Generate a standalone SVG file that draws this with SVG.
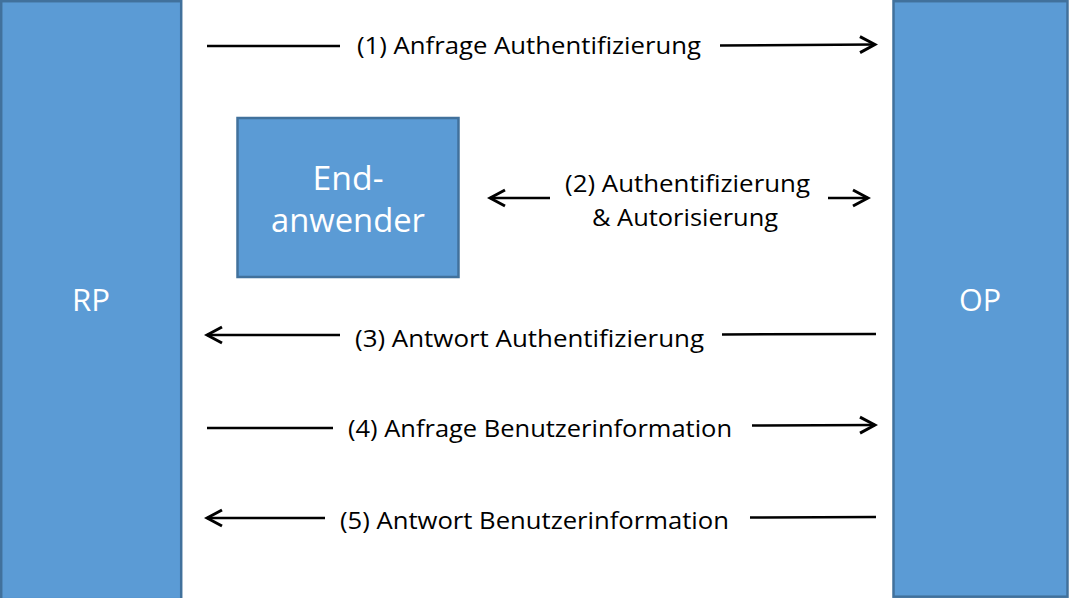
<svg xmlns="http://www.w3.org/2000/svg" width="1069" height="598" viewBox="0 0 1069 598">
<defs>
<style>
.box{fill:#5B9BD5;stroke:#41719C;stroke-width:2.5}
.w{fill:#ffffff;font-family:"Open Sans","Noto Sans",sans-serif;text-anchor:middle}
.t{fill:#000000;font-family:"Open Sans","Noto Sans",sans-serif;font-size:23.5px;text-anchor:middle}
.ln{stroke:#000;stroke-width:2.5;fill:none}
</style>
<marker id="ah" viewBox="0 0 20 20" refX="17" refY="10" markerWidth="20" markerHeight="20" markerUnits="userSpaceOnUse" orient="auto-start-reverse">
<path d="M2,2 L17,10 L2,18" fill="none" stroke="#000" stroke-width="3"/>
</marker>
</defs>
<rect width="1069" height="598" fill="#ffffff"/>
<g id="RP">
<rect class="box" x="1.2" y="1.2" width="180" height="598"/>
<text class="w" x="91" y="311" font-size="31" textLength="38" lengthAdjust="spacingAndGlyphs">RP</text>
</g>
<g id="OP">
<rect class="box" x="893.5" y="1.2" width="174" height="595.5"/>
<text class="w" x="980" y="311" font-size="31" textLength="42" lengthAdjust="spacingAndGlyphs">OP</text>
</g>
<g id="Endanwender">
<rect class="box" x="237.5" y="118" width="221" height="159"/>
<text class="w" x="348" y="190" font-size="32" textLength="71" lengthAdjust="spacingAndGlyphs">End-</text>
<text class="w" x="348" y="232" font-size="32" textLength="154" lengthAdjust="spacingAndGlyphs">anwender</text>
</g>
<g id="connectors">
<line class="ln" x1="207" y1="46" x2="340" y2="46"/>
<line class="ln" x1="720" y1="45.5" x2="875" y2="44.5" marker-end="url(#ah)"/>
<line class="ln" x1="550" y1="198" x2="490" y2="198" marker-end="url(#ah)"/>
<line class="ln" x1="828" y1="198" x2="868" y2="198" marker-end="url(#ah)"/>
<line class="ln" x1="340" y1="335" x2="207" y2="335" marker-end="url(#ah)"/>
<line class="ln" x1="722" y1="334.5" x2="876" y2="334"/>
<line class="ln" x1="207" y1="428" x2="333" y2="428"/>
<line class="ln" x1="752" y1="425.5" x2="875" y2="425" marker-end="url(#ah)"/>
<line class="ln" x1="325" y1="518" x2="207" y2="518" marker-end="url(#ah)"/>
<line class="ln" x1="750" y1="517.5" x2="876" y2="517"/>
</g>
<g id="labels">
<text class="t" x="529" y="54" textLength="344" lengthAdjust="spacingAndGlyphs">(1) Anfrage Authentifizierung</text>
<text class="t" x="687.5" y="192" textLength="245" lengthAdjust="spacingAndGlyphs">(2) Authentifizierung</text>
<text class="t" x="685" y="226" textLength="186" lengthAdjust="spacingAndGlyphs">&amp; Autorisierung</text>
<text class="t" x="529.5" y="347" textLength="349" lengthAdjust="spacingAndGlyphs">(3) Antwort Authentifizierung</text>
<text class="t" x="540" y="437" textLength="384" lengthAdjust="spacingAndGlyphs">(4) Anfrage Benutzerinformation</text>
<text class="t" x="534.5" y="529" textLength="389" lengthAdjust="spacingAndGlyphs">(5) Antwort Benutzerinformation</text>
</g>
</svg>
